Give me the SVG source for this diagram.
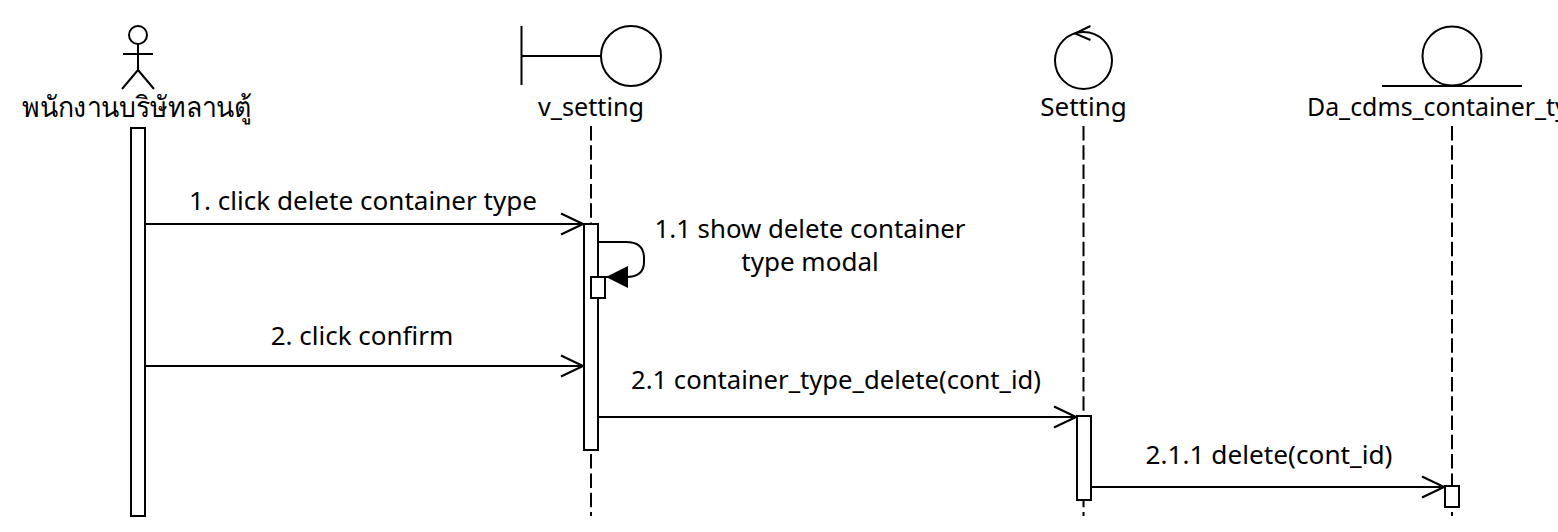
<svg xmlns="http://www.w3.org/2000/svg" width="1558" height="532" viewBox="0 0 1558 532">
<style>
.s{fill:none;stroke:#000;stroke-width:2}
.b{fill:#fff;stroke:#000;stroke-width:2}
.l{fill:none;stroke:#000;stroke-width:2;stroke-dasharray:14.500 4.800}
text{font-family:"Noto Sans","Open Sans","DejaVu Sans",sans-serif;font-size:26px;fill:#000;text-anchor:middle}
</style>
<defs>
<marker id="open" markerUnits="userSpaceOnUse" markerWidth="26" markerHeight="26" refX="24" refY="12" orient="auto"><path d="M2 1.500L24 12L2 22.500" fill="none" stroke="#000" stroke-width="2"/></marker>
<marker id="solid" markerUnits="userSpaceOnUse" markerWidth="26" markerHeight="26" refX="23" refY="12" orient="auto"><path d="M1 1L23 12L1 23Z" fill="#000"/></marker>
</defs>
<g id="lifelines">
<path class="l" d="M591 126V516"/>
<path class="l" d="M1083.500 126V516"/>
<path class="l" d="M1452 126V516"/>
</g>
<g id="actor">
<circle class="s" cx="138" cy="35" r="9"/>
<path class="s" d="M138 44V70M123 54H153M138 70L122 89M138 70L154 89"/>
<text x="137" y="117" style="font-size:28.500px" textLength="230" lengthAdjust="spacingAndGlyphs">พนักงานบริษัทลานตู้</text>
<rect class="b" x="131" y="128" width="14" height="388"/>
</g>
<g id="v_setting">
<path class="s" d="M521.500 26V85M521.500 56H601"/>
<circle class="s" cx="631" cy="56" r="30"/>
<text x="591" y="116" textLength="106" lengthAdjust="spacingAndGlyphs">v_setting</text>
<rect class="b" x="584" y="224" width="14" height="226"/>
<rect class="b" x="591" y="277" width="14" height="21"/>
</g>
<g id="Setting">
<circle class="s" cx="1083.500" cy="60.500" r="28.500"/>
<path class="s" d="M1090.500 26L1075 33.500L1090.500 40"/>
<text x="1083.500" y="116">Setting</text>
<rect class="b" x="1077" y="416" width="14" height="84"/>
</g>
<g id="Da_cdms_container_type">
<circle class="s" cx="1452" cy="56" r="29.500"/>
<path class="s" d="M1382 86H1522"/>
<text x="1307" y="116" style="text-anchor:start" textLength="290" lengthAdjust="spacingAndGlyphs">Da_cdms_container_type</text>
<rect class="b" x="1445" y="486" width="14" height="21"/>
</g>
<g id="connectors">
<path class="s" d="M145 224H583" marker-end="url(#open)"/>
<path class="s" d="M598 242H626Q644 242 644 258V262Q644 277 626 277H606" marker-end="url(#solid)"/>
<path class="s" d="M145 366H583" marker-end="url(#open)"/>
<path class="s" d="M598 417H1076" marker-end="url(#open)"/>
<path class="s" d="M1091 487H1444" marker-end="url(#open)"/>
</g>
<g id="labels">
<text x="363" y="210" textLength="348" lengthAdjust="spacingAndGlyphs">1. click delete container type</text>
<text x="810" y="238" textLength="311" lengthAdjust="spacingAndGlyphs">1.1 show delete container</text>
<text x="810" y="271">type modal</text>
<text x="362" y="345">2. click confirm</text>
<text x="836" y="389" textLength="410" lengthAdjust="spacingAndGlyphs">2.1 container_type_delete(cont_id)</text>
<text x="1269" y="464" textLength="247" lengthAdjust="spacingAndGlyphs">2.1.1 delete(cont_id)</text>
</g>
</svg>
